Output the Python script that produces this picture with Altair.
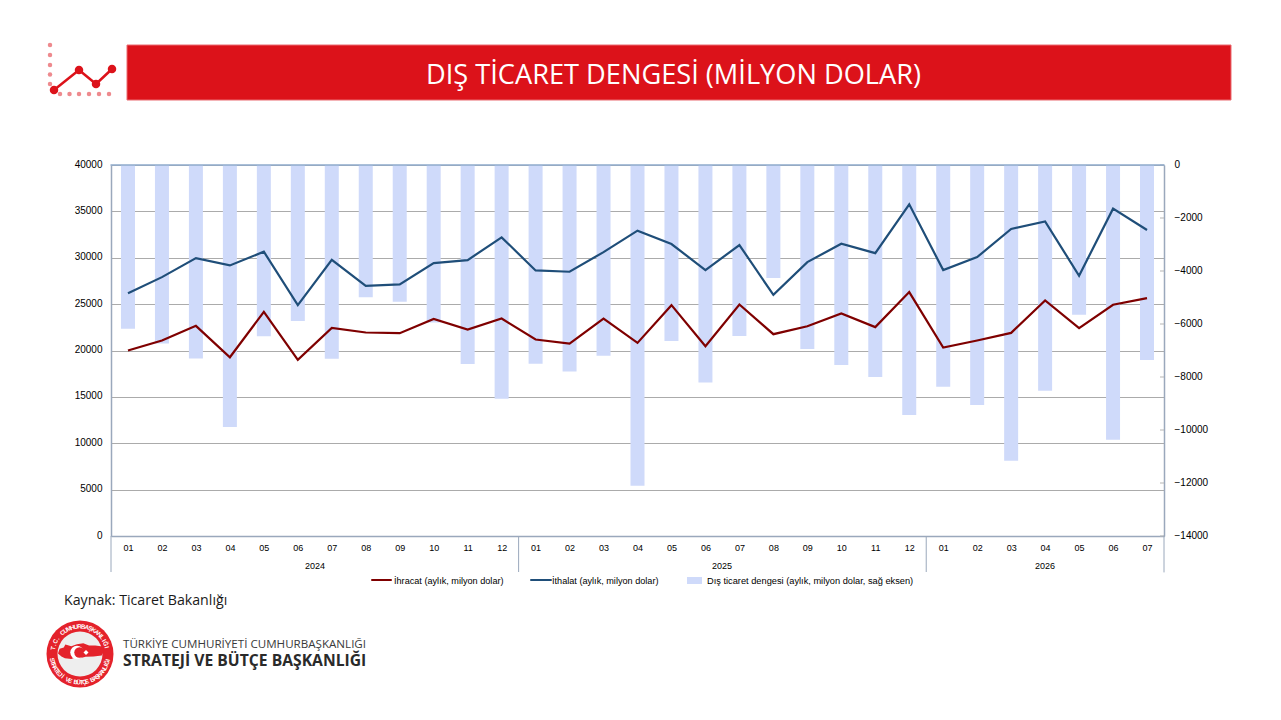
import math
import altair as alt
import pandas as pd

months = [f"2024-{m:02d}" for m in range(1, 13)] + [f"2025-{m:02d}" for m in range(1, 13)] + [f"2026-{m:02d}" for m in range(1, 8)]
exports = [20000, 21070, 22660, 19270, 24170, 19000, 22440, 21940, 21870, 23400, 22260, 23450,
           21180, 20750, 23450, 20820, 24890, 20460, 24960, 21760, 22620, 23990, 22520, 26300,
           20320, 21080, 21900, 25400, 22410, 24930, 25650]
imports = [26180, 27910, 29960, 29170, 30650, 24890, 29780, 26980, 27120, 29420, 29750, 32200,
           28630, 28490, 30610, 32920, 31480, 28670, 31370, 26000, 29530, 31510, 30500, 35760,
           28670, 30070, 33100, 33920, 28060, 35290, 32990]
balance = [-6180, -6740, -7300, -9890, -6460, -5890, -7310, -4990, -5160, -5940, -7510, -8820,
           -7500, -7790, -7200, -12100, -6640, -8210, -6450, -4260, -6940, -7550, -8000, -9430,
           -8370, -9060, -11160, -8520, -5650, -10370, -7360]
left_ticks = [0, 5000, 10000, 15000, 20000, 25000, 30000, 35000, 40000]
right_ticks = [0, -2000, -4000, -6000, -8000, -10000, -12000, -14000]
year_starts = ["2024-01", "2025-01", "2026-01"]
years = ["2024", "2025", "2026"]

OX, OY = 111, 165          # plot origin on the page
W, H = 1053, 371
FONT = "Liberation Sans"
TITLE_FONT = "Open Sans"

def px(v): return v - OX
def py(v): return v - OY

df = pd.DataFrame({"month": months, "exports": exports, "imports": imports, "balance": balance})
x_scale = alt.Scale(domain=months, paddingInner=0, paddingOuter=0)
one = alt.Data(values=[{"k": 0}])

def bare_x():
    return alt.X("month:N", scale=x_scale, axis=None)

def text(s, x, y, size, color="#000000", align="left", weight="normal", font=FONT):
    return alt.Chart(one).mark_text(text=s, align=align, baseline="middle", fontSize=size,
                                    color=color, fontWeight=weight, font=font).encode(
        x=alt.value(px(x)), y=alt.value(py(y)))

def box(x1, y1, x2, y2, color, stroke=None):
    kw = {"stroke": stroke, "strokeWidth": 1} if stroke else {}
    return alt.Chart(one).mark_rect(color=color, **kw).encode(
        x=alt.value(px(x1)), x2=alt.value(px(x2)), y=alt.value(py(y1)), y2=alt.value(py(y2)))

def seg(x1, y1, x2, y2, color, width):
    return alt.Chart(one).mark_rule(color=color, strokeWidth=width, strokeCap="round").encode(
        x=alt.value(px(x1)), x2=alt.value(px(x2)), y=alt.value(py(y1)), y2=alt.value(py(y2)))

def dot(x, y, diameter, color, shape="circle", opacity=1.0):
    return alt.Chart(one).mark_point(filled=True, color=color, size=diameter ** 2, shape=shape,
                                     opacity=opacity, strokeWidth=0).encode(
        x=alt.value(px(x)), y=alt.value(py(y)))

# --- chart proper ---
left = alt.Chart(df).mark_line(strokeWidth=0).encode(
    x=alt.X("month:N", scale=x_scale, title=None,
            axis=alt.Axis(labelExpr="slice(datum.value, 5)", labelAngle=0, ticks=False, labelFont=FONT,
                          labelFontSize=9, labelColor="#000000", labelPadding=7,
                          domainColor="#9aa8bc", domainWidth=1.5, grid=False)),
    y=alt.Y("imports:Q", scale=alt.Scale(domain=[0, 40000], nice=False), title=None,
            axis=alt.Axis(values=left_ticks, format="d", grid=True, gridColor="#ababab", gridWidth=1, ticks=False,
                          labelFont=FONT, labelFontSize=10, labelColor="#000000", labelPadding=9, labelOffset=-1,
                          domainColor="#9aa8bc", domainWidth=1.5)),
)

bars = alt.Chart(df).mark_bar(color="#cfdafa", size=14).encode(
    x=bare_x(),
    y=alt.Y("balance:Q", scale=alt.Scale(domain=[-14000, 0], nice=False), title=None,
            axis=alt.Axis(orient="right", values=right_ticks, format="d", grid=False, ticks=False,
                          labelFont=FONT, labelFontSize=10, labelColor="#000000", labelPadding=10, labelOffset=-1,
                          domainColor="#9aa8bc", domainWidth=1.5)),
    y2=alt.datum(0),
)

right_marks = alt.Chart(pd.DataFrame({"v": right_ticks})).mark_rule(color="#b5b5b5").encode(
    y=alt.Y("v:Q", scale=alt.Scale(domain=[-14000, 0], nice=False), axis=None),
    x=alt.value(W - 4), x2=alt.value(W),
)

top_line = seg(OX, OY, OX + W, OY, "#8eaacb", 1.5)

line_imp = alt.Chart(df).mark_line(color="#1f4e79", strokeWidth=2.2).encode(
    x=bare_x(), y=alt.Y("imports:Q", scale=alt.Scale(domain=[0, 40000], nice=False), axis=None))
line_exp = alt.Chart(df).mark_line(color="#7f0000", strokeWidth=2.2).encode(
    x=bare_x(), y=alt.Y("exports:Q", scale=alt.Scale(domain=[0, 40000], nice=False), axis=None))

# year separators sit on the band edges
seps = alt.Chart(pd.DataFrame({"month": year_starts})).mark_rule(color="#9aa8bc", strokeWidth=1).encode(
    x=alt.X("month:N", scale=x_scale, axis=None, bandPosition=0),
    y=alt.value(H), y2=alt.value(H + 36))
sep_end = seg(OX + W, OY + H, OX + W, OY + H + 36, "#9aa8bc", 1)

year_labels = [text(y, c, 566, 9, align="center") for y, c in zip(years, [315, 722, 1045])]

# --- legend ---
legend = [
    seg(372, 580, 391, 580, "#7f0000", 2),
    text("İhracat (aylık, milyon dolar)", 394, 580.5, 9.15),
    seg(531, 580, 551, 580, "#1f4e79", 2),
    text("İthalat (aylık, milyon dolar)", 552, 580.5, 9.15),
    box(687, 577, 702, 584, "#cfdafa"),
    text("Dış ticaret dengesi (aylık, milyon dolar, sağ eksen)", 707, 580.5, 9.25),
]

# --- banner and icon ---
banner = [
    box(127, 45, 1231, 100, "#dc121a", stroke="#ea6a70"),
    text("DIŞ TİCARET DENGESİ (MİLYON DOLAR)", 673.5, 76, 27.2, "#ffffff", "center", font=TITLE_FONT),
]
icon_dots = [(50, 45), (50, 55), (50, 65), (50, 74.5), (50, 84), (60, 94), (69.5, 94), (79, 94), (89, 94), (99, 94), (109, 94)]
icon_line = [(54, 90), (79, 70), (96, 84), (112, 69)]
icon = [dot(x, y, 4.5, "#ee8a8e") for x, y in icon_dots]
icon += [seg(a[0], a[1], b[0], b[1], "#dc121a", 2.5) for a, b in zip(icon_line, icon_line[1:])]
icon += [dot(x, y, 8.5, "#dc121a") for x, y in icon_line]

# --- source and logo ---
source = text("Kaynak: Ticaret Bakanlığı", 64, 600.5, 14.2, "#1a1a1a", font=TITLE_FONT)
org = [
    text("TÜRKİYE CUMHURİYETİ CUMHURBAŞKANLIĞI", 123, 645, 11.6, "#3a3a3a", font=TITLE_FONT),
    text("STRATEJİ VE BÜTÇE BAŞKANLIĞI", 123, 661, 15.7, "#2a2a2a", weight="bold", font=TITLE_FONT),
]
turkey = ("M-1,0.06 L-0.93,-0.14 L-0.75,-0.2 L-0.68,-0.33 L-0.42,-0.25 L-0.18,-0.34 L0.1,-0.38 L0.35,-0.28 "
          "L0.62,-0.28 L0.95,-0.24 L1,-0.03 L0.9,0.15 L0.55,0.2 L0.2,0.21 L-0.05,0.27 L-0.2,0.22 L-0.42,0.3 "
          "L-0.7,0.27 L-0.85,0.2 Z")
logo = [
    dot(80, 654, 67, "#e4222b"),
    dot(80, 654, 45, "#eeeeee"),
    dot(81, 652, 46, "#e4222b", shape=turkey),
    dot(77, 652.5, 13.5, "#ffffff"),
    dot(79.5, 652.5, 10.5, "#e4222b"),
    dot(86, 652.5, 5, "#ffffff", shape="diamond"),
]
ring_rows = []
def ring(s, start, stop, outward_top):
    n = len(s)
    for i, ch in enumerate(s):
        a = math.radians(start + (stop - start) * i / (n - 1))
        r = 27.5 if outward_top else 28.5
        cx, cy = 80 + r * math.sin(a), 654 - r * math.cos(a)
        deg = math.degrees(a) if outward_top else math.degrees(a) + 180
        ring_rows.append({"ch": ch, "cx": cx, "cy": cy, "deg": deg % 360})
ring("T.C. CUMHURBAŞKANLIĞI", -78, 76, True)
ring("STRATEJİ VE BÜTÇE BAŞKANLIĞI", 258, 102, False)
ring_text = alt.Chart(pd.DataFrame(ring_rows)).mark_text(fontSize=6.2, fontWeight="bold", color="#ffffff",
                                                         font=FONT, baseline="middle").encode(
    x=alt.X("px:Q", scale=None, axis=None),
    y=alt.Y("py:Q", scale=None, axis=None),
    angle=alt.Angle("deg:Q", scale=None),
    text="ch:N",
).transform_calculate(px=f"datum.cx - {OX}", py=f"datum.cy - {OY}")

layers = [left, bars, right_marks, top_line, line_imp, line_exp, seps, sep_end] + year_labels \
    + legend + banner + icon + [source] + org + logo + [ring_text]

chart = alt.layer(*layers).resolve_scale(x="independent", y="independent").properties(
    width=W, height=H,
    autosize=alt.AutoSizeParams(type="none"),
    padding={"left": OX - 8, "top": OY - 8, "right": 100, "bottom": 170},
).configure_view(stroke=None)

chart.save("out.html", embed_options={"renderer": "svg", "actions": False})
